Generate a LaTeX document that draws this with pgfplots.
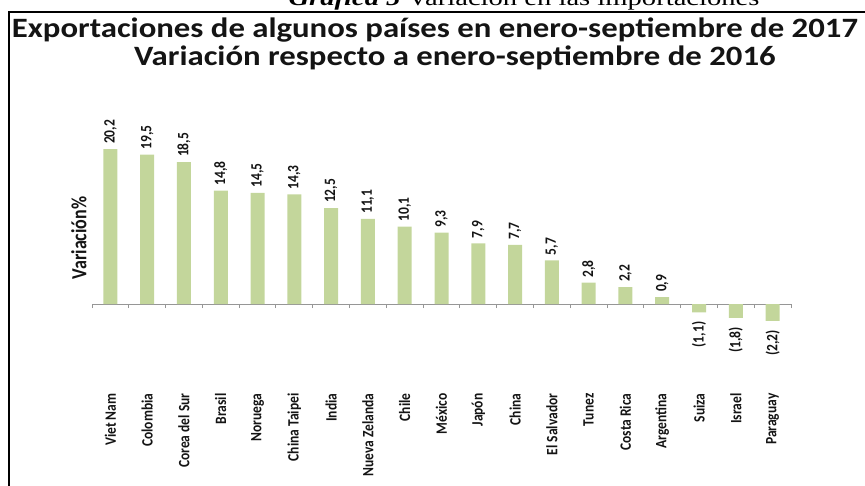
\documentclass[border=0pt]{standalone}
\usepackage{pgfplots}
\pgfplotsset{compat=1.18}
\usepackage{fontspec}
\setmainfont{Carlito}
\newfontfamily\timesf{Liberation Serif}
\definecolor{barg}{RGB}{195,214,155}
\definecolor{axgray}{RGB}{150,150,150}
\definecolor{ink}{RGB}{20,20,20}

\begin{document}
\begin{tikzpicture}[x=1pt,y=1pt]
\useasboundingbox (0,0) rectangle (865,485);
% caption of the source page, cut by the top edge
\node[anchor=base,inner sep=0pt,xscale=1.3,font=\timesf\fontsize{22}{24}\selectfont] at (524,479)
  {\textbf{\textit{Gráfica 5}} Variación en las importaciones};
\draw[line width=1.6pt] (866,473) -- (9,473) -- (9,-2);
\node[anchor=base,inner sep=0pt,xscale=1.17,text=ink,font=\bfseries\fontsize{28}{30}\selectfont] at (435,447)
  {Exportaciones de algunos países en enero-septiembre de 2017};
\node[anchor=base,inner sep=0pt,xscale=1.17,text=ink,font=\bfseries\fontsize{28}{30}\selectfont] at (455,419)
  {Variación respecto a enero-septiembre de 2016};
\node[rotate=90,yscale=1.2,text=ink,font=\bfseries\fontsize{18}{19}\selectfont] at (79,247) {Variación\%};

\begin{axis}[at={(92pt,142.65pt)},anchor=south west,scale only axis,
  width=699pt,height=230pt,xmin=-0.5,xmax=18.5,ymin=-5,ymax=25,clip=false,
  axis y line=none,axis x line=middle,
  x axis line style={-,axgray,line width=1pt},
  xtick={0,...,18},major tick length=0pt,
  minor xtick={-0.5,0.5,...,18.5},minor tick length=4pt,tick align=outside,
  tick style={axgray,line width=1pt},
  xticklabels={Viet Nam,Colombia,Corea del Sur,Brasil,Noruega,China Taipei,India,
    Nueva Zelanda,Chile,México,Japón,China,El Salvador,Tunez,Costa Rica,Argentina,
    Suiza,Israel,Paraguay},
  xticklabel style={yshift=-86pt,rotate=90,yscale=1.17,anchor=east,text=ink,
    font=\bfseries\fontsize{13.5}{14}\selectfont},
  every node near coord/.append style={text=ink,font=\bfseries\fontsize{13.5}{14}\selectfont}]
\addplot[ybar,bar width=14pt,bar shift=0pt,fill=barg,draw=none,
  point meta=explicit symbolic,nodes near coords,
  nodes near coords style={rotate=90,yscale=1.17,anchor=west,inner sep=5pt}]
coordinates {
  (0,20.2)[20,2] (1,19.5)[19,5] (2,18.5)[18,5] (3,14.8)[14,8] (4,14.5)[14,5]
  (5,14.3)[14,3] (6,12.5)[12,5] (7,11.1)[11,1] (8,10.1)[10,1] (9,9.3)[9,3]
  (10,7.9)[7,9] (11,7.7)[7,7] (12,5.7)[5,7] (13,2.8)[2,8] (14,2.2)[2,2]
  (15,0.9)[0,9]
};
\addplot[ybar,bar width=14pt,bar shift=0pt,fill=barg,draw=none,
  point meta=explicit symbolic,nodes near coords,
  nodes near coords style={rotate=90,yscale=1.17,anchor=east,inner sep=9pt}]
coordinates {
  (16,-1.1)[(1,1)] (17,-1.8)[(1,8)] (18,-2.2)[(2,2)]
};
\end{axis}
\end{tikzpicture}
\end{document}
